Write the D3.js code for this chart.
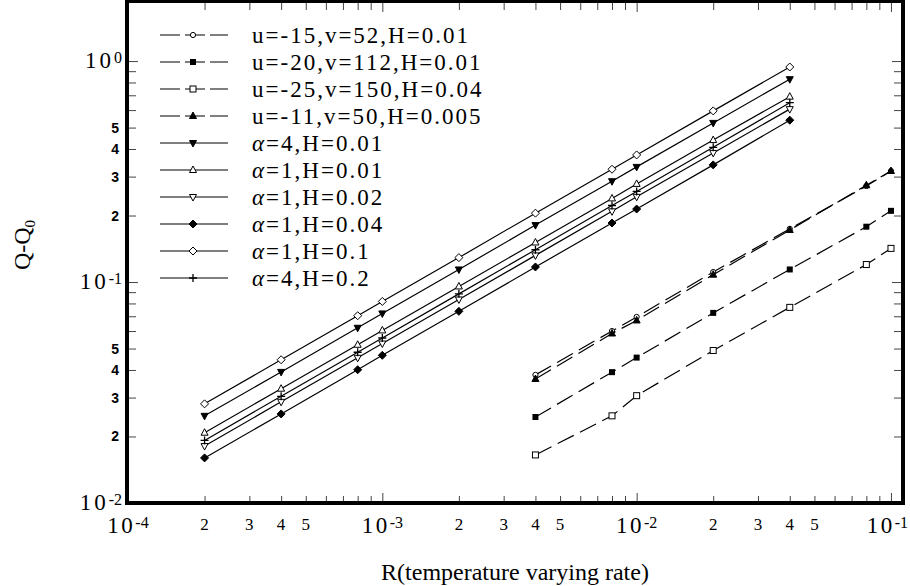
<!DOCTYPE html>
<html>
<head>
<meta charset="utf-8">
<script src="https://cdn.jsdelivr.net/npm/d3@7"></script>
<style>
  body { margin: 0; background: #fff; }
  svg { display: block; }
  text { font-family: "Liberation Serif", "Times New Roman", serif; fill: #000; }
</style>
</head>
<body>
<svg id="chart" width="910" height="586"></svg>
<script>
// Heating rates R at which each family of runs was evaluated
const rateAlpha = [2e-4, 4e-4, 8e-4, 1e-3, 2e-3, 4e-3, 8e-3, 1e-2, 2e-2, 4e-2];
const rateUV    = [4e-3, 8e-3, 1e-2, 2e-2, 4e-2, 8e-2, 1e-1];

// Q - Q0 for the (u, v) potential runs
const qU15 = [0.0380, 0.0600, 0.0695, 0.111, 0.174, 0.272, 0.318];
const qU20 = [0.0245, 0.0391, 0.0455, 0.0725, 0.114, 0.178, 0.210];
const qU25 = [0.0165, 0.0248, 0.0306, 0.0490, 0.0768, 0.120, 0.142];
const qU11 = [0.0364, 0.0585, 0.0670, 0.108, 0.172, 0.274, 0.318];

// Q - Q0 for the alpha runs
const qA4H001 = [0.0248, 0.0392, 0.0621, 0.0721, 0.114, 0.181, 0.286, 0.332, 0.525, 0.828];
const qA1H001 = [0.0208, 0.0329, 0.0520, 0.0604, 0.0955, 0.151, 0.239, 0.278, 0.439, 0.690];
const qA1H002 = [0.0181, 0.0287, 0.0454, 0.0527, 0.0834, 0.132, 0.209, 0.243, 0.384, 0.606];
const qA1H004 = [0.0160, 0.0253, 0.0401, 0.0466, 0.0737, 0.117, 0.185, 0.214, 0.339, 0.540];
const qA1H01  = [0.0281, 0.0445, 0.0704, 0.0817, 0.129, 0.205, 0.324, 0.376, 0.595, 0.940];
const qA4H02  = [0.0192, 0.0304, 0.0481, 0.0558, 0.0884, 0.140, 0.222, 0.257, 0.407, 0.648];

// Legend labels, in legend order
const labels = [
  "u=-15,v=52,H=0.01",
  "u=-20,v=112,H=0.01",
  "u=-25,v=150,H=0.04",
  "u=-11,v=50,H=0.005",
  "α=4,H=0.01",
  "α=1,H=0.01",
  "α=1,H=0.02",
  "α=1,H=0.04",
  "α=1,H=0.1",
  "α=4,H=0.2"
];

// Axis tick labels
const xDecades = [1e-4, 1e-3, 1e-2, 1e-1];
const xDecadeExp = ["-4", "-3", "-2", "-1"];
const yDecades = [1e-2, 1e-1, 1e0];
const yDecadeExp = ["-2", "-1", "0"];
const minorLabelMantissas = [2, 3, 4, 5];

const series = [
  { label: labels[0], rate: rateUV, q: qU15, dashed: true,  marker: "circleOpen" },
  { label: labels[1], rate: rateUV, q: qU20, dashed: true,  marker: "squareFilled" },
  { label: labels[2], rate: rateUV, q: qU25, dashed: true,  marker: "squareOpen" },
  { label: labels[3], rate: rateUV, q: qU11, dashed: true,  marker: "triUpFilled" },
  { label: labels[4], rate: rateAlpha, q: qA4H001, dashed: false, marker: "triDownFilled" },
  { label: labels[5], rate: rateAlpha, q: qA1H001, dashed: false, marker: "triUpOpen" },
  { label: labels[6], rate: rateAlpha, q: qA1H002, dashed: false, marker: "triDownOpen" },
  { label: labels[7], rate: rateAlpha, q: qA1H004, dashed: false, marker: "diamondFilled" },
  { label: labels[8], rate: rateAlpha, q: qA1H01,  dashed: false, marker: "diamondOpen" },
  { label: labels[9], rate: rateAlpha, q: qA4H02,  dashed: false, marker: "plus" }
];

const W = 910;
const svg = d3.select("#chart");

const plot = { left: 127, right: 903, top: 1, bottom: 503 };

const x = d3.scaleLog().domain([1e-4, 0.1115]).range([plot.left + 1, plot.right]);
const y = d3.scaleLog().domain([1e-2, 1.87]).range([plot.bottom, plot.top]);

// tick positions: 1..9 per decade
function logTicks(lo, hi) {
  const out = [];
  for (let e = lo; e < hi; e++) for (let m = 1; m <= 9; m++) out.push(m * Math.pow(10, e));
  out.push(Math.pow(10, hi));
  return out;
}
const xTicks = logTicks(-4, -1);
const yTicks = logTicks(-2, 0);
const isMajor = v => Math.abs(Math.log10(v) - Math.round(Math.log10(v))) < 1e-9;

// axes with inward ticks on all four sides
function styleAxis(g) {
  g.select(".domain").remove();
  g.selectAll(".tick line").attr("stroke", "#444").attr("stroke-width", 1);
  g.selectAll(".tick text").remove();
}
const axB = g => g.attr("transform", `translate(0,${plot.bottom})`)
  .call(d3.axisBottom(x).tickValues(xTicks).tickFormat("").tickSizeInner(0).tickSizeOuter(0)).call(styleAxis);
const axT = g => g.attr("transform", `translate(0,${plot.top})`)
  .call(d3.axisTop(x).tickValues(xTicks).tickFormat("").tickSizeInner(0).tickSizeOuter(0)).call(styleAxis);
const axL = g => g.attr("transform", `translate(${plot.left},0)`)
  .call(d3.axisLeft(y).tickValues(yTicks).tickFormat("").tickSizeInner(0).tickSizeOuter(0)).call(styleAxis);
const axR = g => g.attr("transform", `translate(${plot.right},0)`)
  .call(d3.axisRight(y).tickValues(yTicks).tickFormat("").tickSizeInner(0).tickSizeOuter(0)).call(styleAxis);

const gB = svg.append("g").call(axB);
gB.selectAll(".tick line").attr("y2", d => isMajor(d) ? -10 : -7);
const gT = svg.append("g").call(axT);
gT.selectAll(".tick line").attr("y2", d => isMajor(d) ? 11 : 9);
const gL = svg.append("g").call(axL);
gL.selectAll(".tick line").attr("x2", d => isMajor(d) ? 11 : 9);
const gR = svg.append("g").call(axR);
gR.selectAll(".tick line").attr("x2", d => isMajor(d) ? -11 : -9);

// frame
svg.append("rect")
  .attr("x", plot.left).attr("y", plot.top)
  .attr("width", plot.right - plot.left).attr("height", plot.bottom - plot.top)
  .attr("fill", "none").attr("stroke", "#000").attr("stroke-width", 4);

// x tick labels (decades as 10 with a raised exponent)
xDecades.forEach((v, i) => {
  const t = svg.append("text").attr("x", x(v)).attr("y", 533)
    .attr("text-anchor", "middle").attr("font-size", 23).style("letter-spacing", "2.5px");
  t.append("tspan").text("10");
  t.append("tspan").attr("dy", -5).attr("font-size", 16).style("letter-spacing", "0px").text(xDecadeExp[i]);
  // keep the last label inside the page
  const bb = t.node().getBBox();
  const overflow = bb.x + bb.width - (W - 2);
  if (overflow > 0) t.attr("x", x(v) - overflow);
});
[1e-4, 1e-3, 1e-2].forEach(d => {
  minorLabelMantissas.forEach(m => {
    svg.append("text").attr("x", x(m * d)).attr("y", 530)
      .attr("text-anchor", "middle").attr("font-size", 17).text(m);
  });
});

// y tick labels
yDecades.forEach((v, i) => {
  const t = svg.append("text").attr("x", 122).attr("y", y(v) + 7)
    .attr("text-anchor", "end").attr("font-size", 23).style("letter-spacing", "3px");
  t.append("tspan").text("10");
  t.append("tspan").attr("dy", -5).attr("font-size", 16).style("letter-spacing", "0px").text(yDecadeExp[i]);
});
[1e-2, 1e-1].forEach(d => {
  minorLabelMantissas.forEach(m => {
    svg.append("text").attr("x", 119).attr("y", y(m * d) + 5)
      .attr("text-anchor", "end").attr("font-size", 14)
      .style("font-family", "'Liberation Sans', Arial, sans-serif").style("font-weight", "bold")
      .text(m);
  });
});

// axis titles
svg.append("text").attr("x", 515).attr("y", 580).attr("text-anchor", "middle")
  .attr("font-size", 24).text("R(temperature varying rate)");
const yt = svg.append("text").attr("transform", "translate(30,245) rotate(-90)")
  .attr("text-anchor", "middle").attr("font-size", 24);
yt.append("tspan").text("Q-Q");
yt.append("tspan").attr("dy", 5).attr("font-size", 15).text("0");

// marker glyphs
function drawMarker(g, type, cx, cy) {
  const s = 3;
  switch (type) {
    case "circleOpen":
      g.append("circle").attr("cx", cx).attr("cy", cy).attr("r", 2.6)
        .attr("fill", "#fff").attr("stroke", "#000").attr("stroke-width", 1); break;
    case "squareFilled":
      g.append("rect").attr("x", cx - s).attr("y", cy - s).attr("width", 2 * s).attr("height", 2 * s)
        .attr("fill", "#000"); break;
    case "squareOpen":
      g.append("rect").attr("x", cx - s).attr("y", cy - s).attr("width", 2 * s).attr("height", 2 * s)
        .attr("fill", "#fff").attr("stroke", "#000").attr("stroke-width", 1); break;
    case "triUpFilled":
    case "triUpOpen":
      g.append("path").attr("d", `M${cx},${cy - 4}L${cx + 3.5},${cy + 2.5}L${cx - 3.5},${cy + 2.5}Z`)
        .attr("fill", type === "triUpFilled" ? "#000" : "#fff").attr("stroke", "#000").attr("stroke-width", 1); break;
    case "triDownFilled":
    case "triDownOpen":
      g.append("path").attr("d", `M${cx},${cy + 4}L${cx + 3.5},${cy - 2.5}L${cx - 3.5},${cy - 2.5}Z`)
        .attr("fill", type === "triDownFilled" ? "#000" : "#fff").attr("stroke", "#000").attr("stroke-width", 1); break;
    case "diamondFilled":
    case "diamondOpen":
      g.append("path").attr("d", `M${cx},${cy - 4}L${cx + 4},${cy}L${cx},${cy + 4}L${cx - 4},${cy}Z`)
        .attr("fill", type === "diamondFilled" ? "#000" : "#fff").attr("stroke", "#000").attr("stroke-width", 1); break;
    case "plus":
      g.append("path").attr("d", `M${cx - 4},${cy}H${cx + 4}M${cx},${cy - 4}V${cy + 4}`)
        .attr("stroke", "#000").attr("stroke-width", 1.3); break;
  }
}

// series lines and markers
const line = d3.line().x(d => x(d[0])).y(d => y(d[1]));
series.forEach(s => {
  const pts = s.rate.map((r, i) => [r, s.q[i]]);
  const g = svg.append("g");
  g.append("path").datum(pts).attr("d", line)
    .attr("fill", "none").attr("stroke", "#000").attr("stroke-width", 1.2)
    .attr("stroke-dasharray", s.dashed ? "18,7" : null);
  pts.forEach(p => drawMarker(g, s.marker, x(p[0]), y(p[1])));
});

// legend
const legX0 = 160, legX1 = 228, legTextX = 252, legY0 = 35, legDy = 27;
series.forEach((s, i) => {
  const ly = legY0 + i * legDy;
  const g = svg.append("g");
  g.append("line").attr("x1", legX0).attr("x2", legX1).attr("y1", ly).attr("y2", ly)
    .attr("stroke", "#000").attr("stroke-width", 1.2)
    .attr("stroke-dasharray", s.dashed ? "20,5" : null);
  drawMarker(g, s.marker, 193, ly);
  const t = g.append("text").attr("x", legTextX).attr("y", ly + 8)
    .attr("font-size", 23).style("letter-spacing", "2px");
  if (s.label.startsWith("α")) {
    t.append("tspan").attr("font-style", "italic").text("α");
    t.append("tspan").text(s.label.slice(1));
  } else {
    t.text(s.label);
  }
});
</script>
</body>
</html>
